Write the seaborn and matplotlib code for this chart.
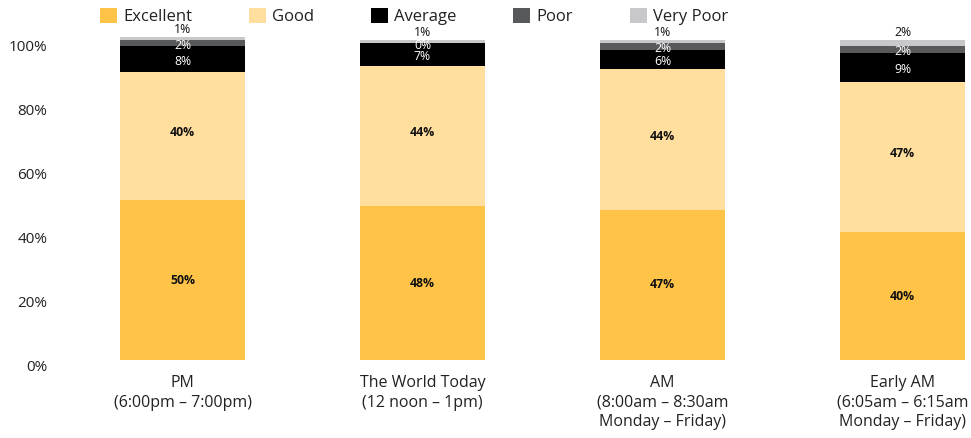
import numpy as np
import pandas as pd
import matplotlib
matplotlib.use("Agg")
import matplotlib.pyplot as plt
from matplotlib.patches import Patch
import seaborn as sns

categories = ["PM\n(6:00pm – 7:00pm)",
              "The World Today\n(12 noon – 1pm)",
              "AM\n(8:00am – 8:30am\nMonday – Friday)",
              "Early AM\n(6:05am – 6:15am\nMonday – Friday)"]
series_names = ["Excellent", "Good", "Average", "Poor", "Very Poor"]
excellent = [50, 48, 47, 40]
good = [40, 44, 44, 47]
average = [8, 7, 6, 9]
poor = [2, 0, 2, 2]
very_poor = [1, 1, 1, 2]
y_ticks = [0, 20, 40, 60, 80, 100]

colors = ["#FFC447", "#FFDE9E", "#000000", "#58595B", "#C8C8CA"]
label_colors = ["#111111", "#111111", "#FFFFFF", "#FFFFFF", "#111111"]
label_weights = ["bold", "bold", "normal", "normal", "normal"]
label_dy = [0, 1.0, -0.6, -0.6, 2.2]

sns.set_theme(style="white")
plt.rcParams["font.family"] = ["Open Sans", "DejaVu Sans"]
TXT = "#222222"

W, H = 971, 438
fig = plt.figure(figsize=(W / 100, H / 100), dpi=100)
ax = fig.add_axes([62.5 / W, (H - 360) / H, (W - 62.5) / W, 352 / H])

values = [excellent, good, average, poor, very_poor]
df = pd.DataFrame({n: v for n, v in zip(series_names, values)})
df["cat"] = categories
cum = df[series_names].cumsum(axis=1)

# draw cumulative bars from top layer down so they stack
for i in reversed(range(len(series_names))):
    sns.barplot(x=df["cat"], y=cum[series_names[i]], color=colors[i],
                width=0.52, ax=ax, saturation=1, linewidth=0,
                order=categories)

ax.set_xlim(-0.5, (W - 182.5) / 240)
ax.set_ylim(0, 110)

# value labels
for j in range(len(categories)):
    bottom = 0
    for i, name in enumerate(series_names):
        v = values[i][j]
        if i == len(series_names) - 1:
            y = bottom + v + label_dy[i]
        else:
            y = bottom + v / 2 + label_dy[i]
        ax.text(j, y, f"{v}%", ha="center", va="center", fontsize=8.8,
                color=label_colors[i], fontweight=label_weights[i])
        bottom += v

ax.set_yticks(y_ticks)
ax.set_yticklabels([f"{t}%" for t in y_ticks], fontsize=11, color=TXT)
for lab in ax.get_yticklabels():
    lab.set_verticalalignment("top")
ax.set_xticks(range(len(categories)))
ax.set_xticklabels(categories, fontsize=11.5, color=TXT, linespacing=1.3)
ax.tick_params(axis="y", length=0, pad=11)
ax.tick_params(axis="x", length=0, pad=11)
ax.set_xlabel("")
ax.set_ylabel("")
sns.despine(ax=ax, left=True, bottom=True)

handles = [Patch(facecolor=c, edgecolor="none") for c in colors]
fig.legend(handles, series_names, loc="upper left",
           bbox_to_anchor=(100 / W, 1 - 8 / H), ncol=5, frameon=False,
           fontsize=12, handlelength=1.0, handleheight=1.0,
           handletextpad=0.4, columnspacing=3.4, borderpad=0,
           borderaxespad=0, labelcolor=TXT)

fig.savefig("out.png", dpi=100)
